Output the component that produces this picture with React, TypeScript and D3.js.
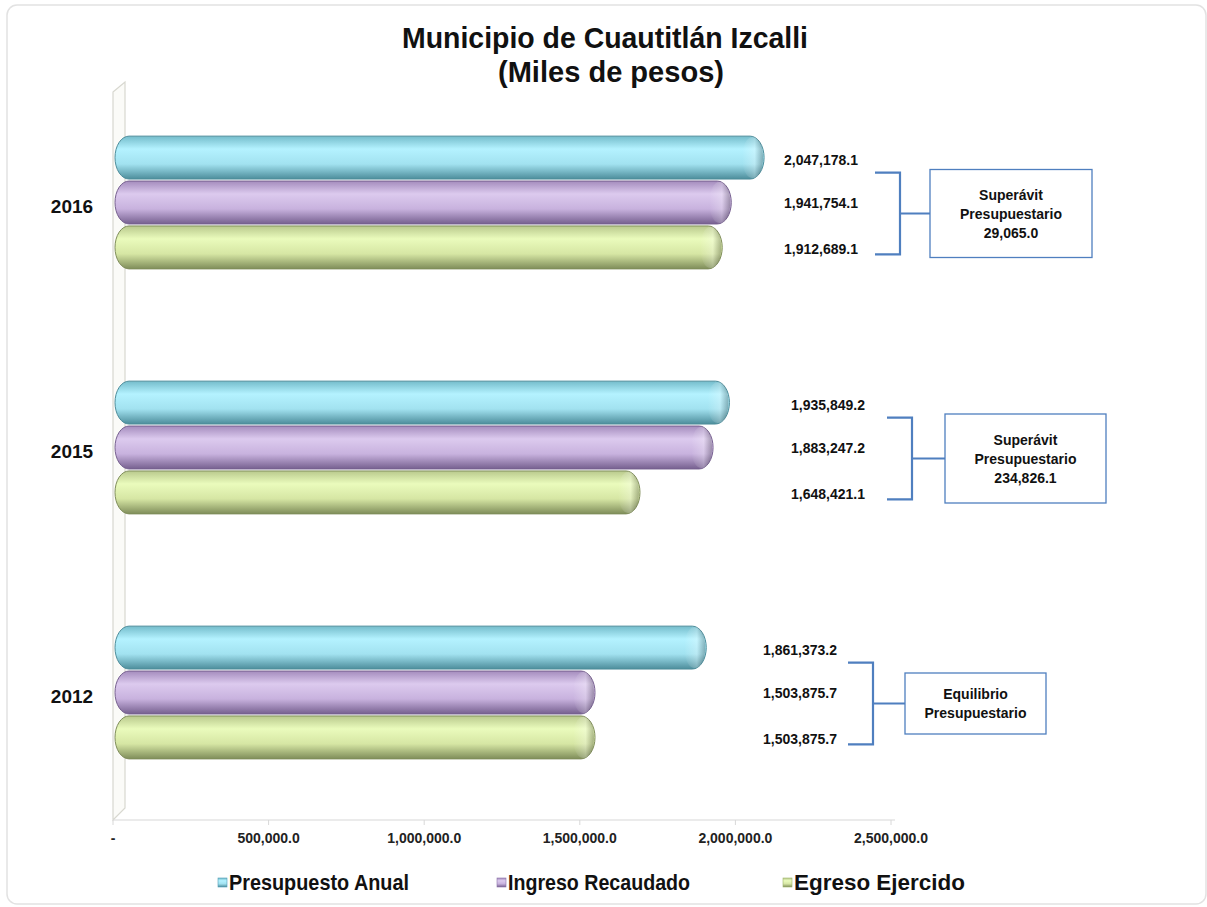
import * as d3 from 'd3';

const years = ['2016', '2015', '2012'];
const seriesNames = ['Presupuesto Anual', 'Ingreso Recaudado', 'Egreso Ejercido'];
const presupuesto = [2047178.1, 1935849.2, 1861373.2];
const ingreso = [1941754.1, 1883247.2, 1503875.7];
const egreso = [1912689.1, 1648421.1, 1503875.7];
const tickValues = [0, 500000, 1000000, 1500000, 2000000, 2500000];
const boxTexts = [
    ['Superávit', 'Presupuestario', '29,065.0'],
    ['Superávit', 'Presupuestario', '234,826.1'],
    ['Equilibrio', 'Presupuestario'],
];

const W = 1207;
const H = 907;
const SANS = '"Liberation Sans", Arial, sans-serif';

// cylinder gradient stops: edge, highlight, shadow
const palette = [
    { id: 'gBlue', stops: ['#74bccb', '#b4f2ff', '#a2e2f0', '#4d8d9b'], key: '#4f9cb5' },
    { id: 'gPurple', stops: ['#a48cbd', '#dccaee', '#c8b2de', '#76608f'], key: '#8a72a8' },
    { id: 'gGreen', stops: ['#b9c98d', '#eafbbc', '#d6e6a4', '#7f8d5a'], key: '#9fb56a' },
];

// label placement per year group (centre of value labels, bracket and box)
const labelX = [821, 828, 800];
const bracketX = [900, 912, 873];
const boxRect = [
    { x: 930, w: 162, h: 88 },
    { x: 945, w: 161, h: 89 },
    { x: 905, w: 141, h: 61 },
];
// legend items squeezed like the narrow font of the original
const legendX = [218, 497, 783];
const legendLen = [180, 182, 171];

export default function App() {
    const x = d3.scaleLinear().domain([0, 2500000]).range([117, 895]);
    const y = d3.scaleBand<string>().domain(years).range([80, 815]).paddingInner(0.45).paddingOuter(0.225);
    const inner = d3.scaleBand<string>().domain(seriesNames).range([0, y.bandwidth()]).padding(0);
    const values = [presupuesto, ingreso, egreso];
    const fmt = d3.format(',.1f');
    const bh = inner.bandwidth();
    const axisY = 820;

    return (
        <svg width={W} height={H} style={{ position: 'absolute', left: 0, top: 0, background: '#fff' }}>
            <defs>
                {palette.map(p => (
                    <linearGradient key={p.id} id={p.id} x1="0" y1="0" x2="0" y2="1">
                        <stop offset="0" stopColor={p.stops[0]} />
                        <stop offset="0.3" stopColor={p.stops[1]} />
                        <stop offset="0.65" stopColor={p.stops[2]} />
                        <stop offset="1" stopColor={p.stops[3]} />
                    </linearGradient>
                ))}
                {palette.map(p => (
                    <linearGradient key={p.id + 'c'} id={p.id + 'c'} x1="0" y1="0" x2="1" y2="0">
                        <stop offset="0" stopColor="#fff" stopOpacity="0" />
                        <stop offset="0.6" stopColor="#fff" stopOpacity="0.25" />
                        <stop offset="1" stopColor="#000" stopOpacity="0.25" />
                    </linearGradient>
                ))}
            </defs>
            <rect x={7} y={5} width={1199} height={899} rx={10} fill="#fff" stroke="#e2e2e2" strokeWidth={1.5} />

            {/* title */}
            <text x={402} y={48} textLength={406} lengthAdjust="spacingAndGlyphs" fontFamily={SANS} fontWeight="bold" fontSize={30} fill="#111">
                Municipio de Cuautitlán Izcalli
            </text>
            <text x={498} y={82} textLength={226} lengthAdjust="spacingAndGlyphs" fontFamily={SANS} fontWeight="bold" fontSize={30} fill="#111">
                (Miles de pesos)
            </text>

            {/* 3D side wall */}
            <path d={`M113,92 L125,82 L125,808 L113,${axisY} Z`} fill="#fbfbf8" stroke="#d8d8d0" strokeWidth={1.2} />
            <line x1={113} x2={x(2500000)} y1={axisY} y2={axisY} stroke="#d8d8d8" strokeWidth={1.2} />
            {tickValues.map(t => (
                <g key={t}>
                    <line x1={x(t) - 4} x2={x(t) - 4} y1={axisY} y2={axisY + 5} stroke="#d8d8d8" />
                    <text x={x(t) - 4} y={axisY + 23} textAnchor="middle" fontFamily={SANS} fontWeight="bold" fontSize={14} fill="#222">
                        {t === 0 ? '-' : fmt(t)}
                    </text>
                </g>
            ))}

            {/* bars */}
            {years.map((yr, yi) => (
                <g key={yr} transform={`translate(0,${y(yr)})`}>
                    {seriesNames.map((s, si) => {
                        const v = values[si][yi];
                        const x0 = x(0) - 2;
                        const w = x(v) - x(0) + 12;
                        const top = (inner(s) as number) + 1;
                        const h = bh - 2;
                        return (
                            <g key={s}>
                                <rect x={x0} y={top} width={w} height={h} rx={14} ry={h / 2}
                                    fill={`url(#${palette[si].id})`} stroke={palette[si].stops[3]} strokeWidth={1} />
                                <rect x={x0 + w - 22} y={top + 1} width={21} height={h - 2} rx={10} ry={h / 2 - 1}
                                    fill={`url(#${palette[si].id}c)`} />
                            </g>
                        );
                    })}
                    <text x={72} y={y.bandwidth() / 2 + 10} textAnchor="middle" fontFamily={SANS} fontWeight="bold" fontSize={19} fill="#111">
                        {yr}
                    </text>
                </g>
            ))}

            {/* value labels, brackets and boxes */}
            {years.map((yr, yi) => {
                const gy = y(yr) as number;
                const ys = seriesNames.map(s => gy + (inner(s) as number) + bh / 2);
                const ls = [ys[0] + 2, ys[1] + 0, ys[2] + 2];
                const bx = bracketX[yi];
                const t = ls[0] + 13;
                const b = ls[2] + 5;
                const mid = (t + b) / 2;
                const box = boxRect[yi];
                const lines = boxTexts[yi];
                return (
                    <g key={'l' + yr}>
                        {seriesNames.map((s, si) => (
                            <text key={s} x={labelX[yi]} y={ls[si] + 5} textAnchor="middle" fontFamily={SANS} fontWeight="bold" fontSize={14} fill="#111">
                                {fmt(values[si][yi])}
                            </text>
                        ))}
                        <path d={`M${bx - 25},${t} H${bx} V${b} H${bx - 25} M${bx},${mid} H${box.x}`} fill="none" stroke="#4f7fbf" strokeWidth={2.2} />
                        <rect x={box.x} y={mid - box.h / 2} width={box.w} height={box.h} fill="#fff" stroke="#4f7fbf" strokeWidth={1.3} />
                        {lines.map((ln, li) => (
                            <text key={li} x={box.x + box.w / 2} y={mid + (li - (lines.length - 1) / 2) * 19 + 5} textAnchor="middle"
                                fontFamily={SANS} fontWeight="bold" fontSize={14} fill="#111">
                                {ln}
                            </text>
                        ))}
                    </g>
                );
            })}

            {/* legend */}
            {seriesNames.map((s, si) => {
                const lx = legendX[si];
                return (
                    <g key={'lg' + s}>
                        <rect x={lx} y={878} width={9} height={9} fill={`url(#${palette[si].id})`} stroke={palette[si].key} strokeWidth={0.6} />
                        <text x={lx + 11} y={890} textLength={legendLen[si]} lengthAdjust="spacingAndGlyphs"
                            fontFamily={SANS} fontWeight="bold" fontSize={22} fill="#111">
                            {s}
                        </text>
                    </g>
                );
            })}
        </svg>
    );
}
